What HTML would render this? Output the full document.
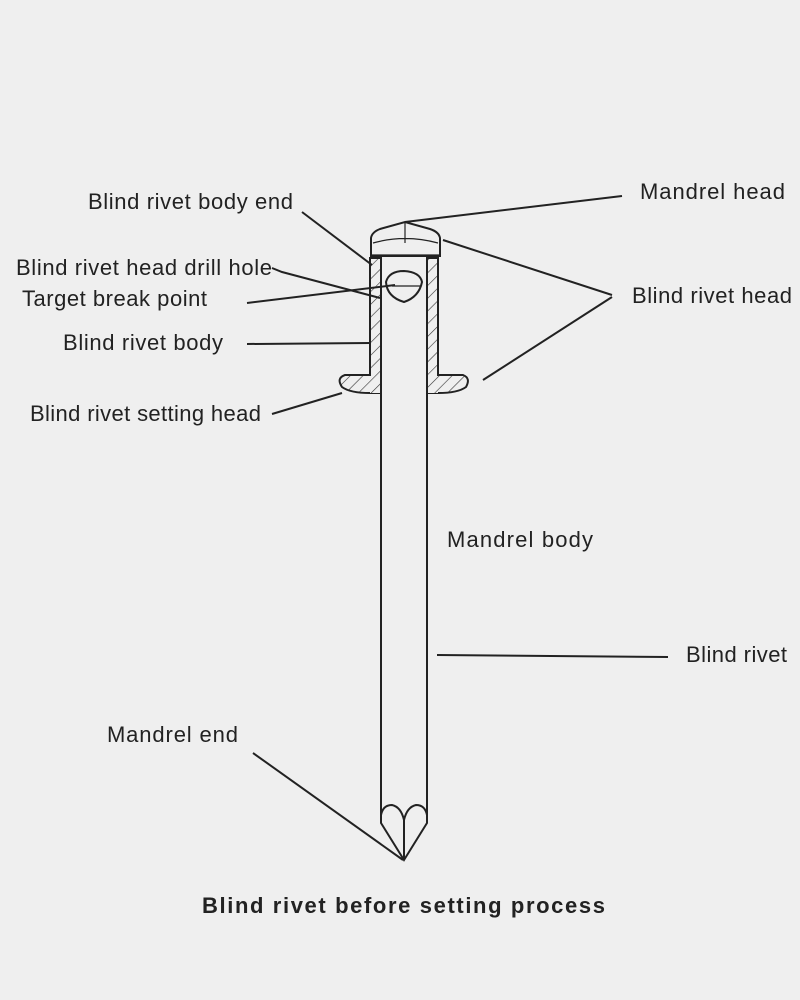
<!DOCTYPE html>
<html><head><meta charset="utf-8"><style>
html,body{margin:0;padding:0;background:#efefef;}
svg{display:block}
text{font-family:"Liberation Sans",sans-serif;font-size:22px;fill:#222;}
</style></head><body>
<svg width="800" height="1000" viewBox="0 0 800 1000" xmlns="http://www.w3.org/2000/svg">
<defs>
<pattern id="h" width="9" height="9" patternUnits="userSpaceOnUse" patternTransform="rotate(45)">
<rect width="9" height="9" fill="#efefef"/><line x1="0" y1="0" x2="0" y2="9" stroke="#333" stroke-width="1.2"/>
</pattern>
</defs>
<g fill="none" stroke="#222" stroke-width="2">
<path d="M371,256 L371,238 Q372,232 380,229 L405,222 L430,229 Q439,232 440,238 L440,256 Z" fill="#efefef"/>
<path d="M405,222 L405,243 M373,243 Q405,234 438,243" stroke-width="1.2"/>
<line x1="372" y1="255" x2="439" y2="255" stroke-width="1.2"/>
<path d="M370,258 L381,258 L381,386 L370,386 Z" fill="url(#h)"/>
<path d="M427,258 L438,258 L438,386 L427,386 Z" fill="url(#h)"/>
<path d="M370,375 L345,375 Q336,378 342,387 Q350,393 370,393 L381,393 L381,375" fill="url(#h)"/>
<path d="M438,375 L463,375 Q471,378 466,387 Q458,393 438,393 L427,393 L427,375" fill="url(#h)"/>
<rect x="370" y="360" width="11" height="33" fill="url(#h)" stroke="none"/>
<rect x="427" y="360" width="11" height="33" fill="url(#h)" stroke="none"/>
<line x1="370" y1="258" x2="370" y2="376"/>
<line x1="438" y1="258" x2="438" y2="376"/>
<line x1="381" y1="256" x2="381" y2="823"/>
<line x1="427" y1="256" x2="427" y2="823"/>
<path d="M386,282 Q389,271 404,271 Q420,272 422,282 Q419,297 404,302 Q387,297 386,282 Z" fill="#efefef"/>
<line x1="392" y1="286" x2="420" y2="286" stroke-width="1.2"/>
<path d="M381,823 L381,815 Q383,805 392,805 Q401,807 404,820 Q407,807 416,805 Q425,805 427,815 L427,823 L404,860 Z"/>
<line x1="404" y1="820" x2="404" y2="860"/>
<line x1="302" y1="212" x2="372" y2="265"/>
<polyline points="622,196 405,222"/>
<polyline points="272,268 282,272 380,298"/>
<line x1="247" y1="303" x2="395" y2="285"/>
<line x1="247" y1="344" x2="370" y2="343"/>
<line x1="272" y1="414" x2="342" y2="393"/>
<line x1="612" y1="295" x2="443" y2="240"/>
<line x1="612" y1="297" x2="483" y2="380"/>
<line x1="437" y1="655" x2="668" y2="657"/>
<line x1="253" y1="753" x2="403" y2="860"/>
</g>
<text x="88" y="209" textLength="205">Blind rivet body end</text>
<text x="16" y="275" textLength="256">Blind rivet head drill hole</text>
<text x="22" y="306" textLength="185">Target break point</text>
<text x="63" y="350" textLength="160">Blind rivet body</text>
<text x="30" y="421" textLength="231">Blind rivet setting head</text>
<text x="640" y="199" textLength="145">Mandrel head</text>
<text x="632" y="303" textLength="160">Blind rivet head</text>
<text x="447" y="547" textLength="146">Mandrel body</text>
<text x="686" y="662" textLength="101">Blind rivet</text>
<text x="107" y="742" textLength="131">Mandrel end</text>
<text x="202" y="913" textLength="403" style="font-weight:bold;font-size:22px">Blind rivet before setting process</text>
</svg>
</body></html>
